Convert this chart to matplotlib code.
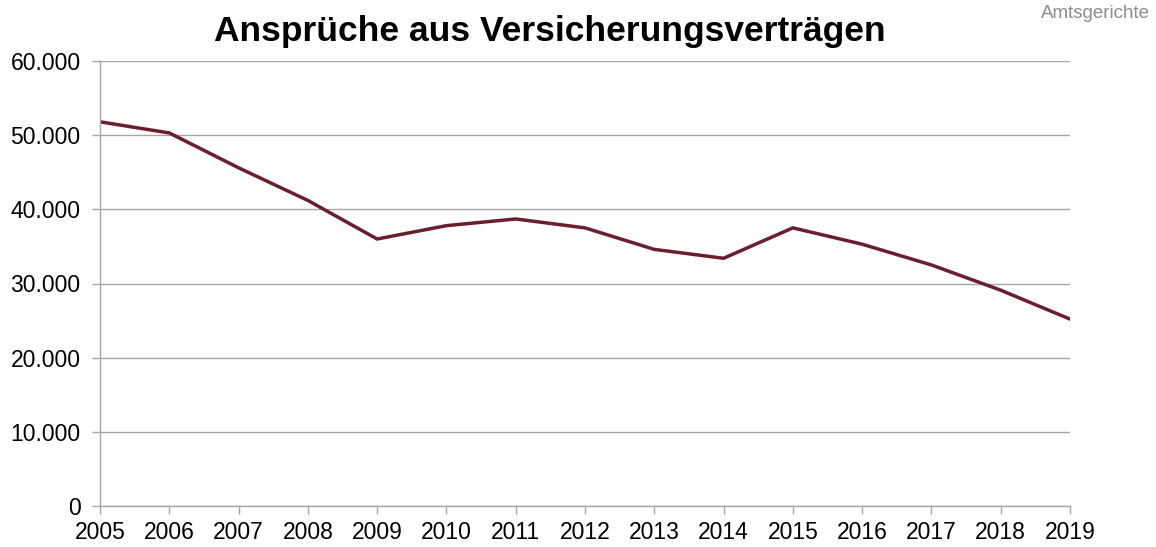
import matplotlib
matplotlib.use("Agg")
import matplotlib.pyplot as plt
from matplotlib.ticker import FuncFormatter

years = list(range(2005, 2020))
values = [51800, 50300, 45600, 41200, 36000, 37800, 38700, 37500,
          34600, 33400, 37500, 35300, 32500, 29100, 25200]
yticks = [0, 10000, 20000, 30000, 40000, 50000, 60000]

plt.rcParams['font.family'] = ['Liberation Sans', 'DejaVu Sans']

W, H = 1156, 547
fig = plt.figure(figsize=(W / 100, H / 100), dpi=100)
ax = fig.add_axes([100 / W, (H - 506) / H, (1070 - 100) / W, (506 - 61) / H])

ax.plot(years, values, color='#6B1F2E', linewidth=2.5, solid_joinstyle='miter')

ax.set_xlim(2005, 2019)
ax.set_ylim(0, 60000)
ax.set_xticks(years)
ax.set_yticks(yticks)
ax.yaxis.set_major_formatter(FuncFormatter(lambda v, p: f"{int(v):,}".replace(",", ".")))
ax.grid(axis='y', color='#A6A6A6', linewidth=1.0)
ax.set_axisbelow(True)
for s in ['top', 'right']:
    ax.spines[s].set_visible(False)
for s in ['left', 'bottom']:
    ax.spines[s].set_color('#A6A6A6')
    ax.spines[s].set_linewidth(1.0)
ax.tick_params(axis='both', colors='#A6A6A6', length=6, width=1.0, labelsize=16.5, labelcolor='black')
ax.tick_params(axis='x', pad=5)
ax.tick_params(axis='y', pad=8)

fig.text(550 / W, 1 - 32 / H, 'Ansprüche aus Versicherungsverträgen', ha='center', va='center',
         fontsize=25.5, fontweight='bold')
fig.text(1150 / W, 1 - 14 / H, 'Amtsgerichte', ha='right', va='center', fontsize=13.5, color='#8C8C8C')

fig.savefig('out.png', dpi=100)
